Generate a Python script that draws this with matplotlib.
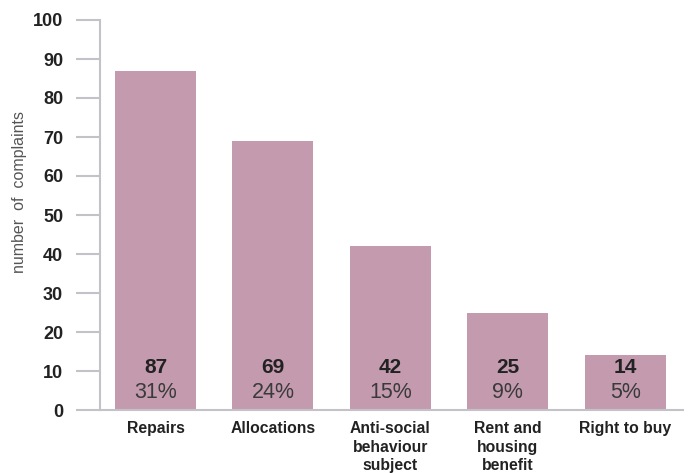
import matplotlib
matplotlib.use("Agg")
import matplotlib.pyplot as plt

categories = ["Repairs", "Allocations", "Anti-social\nbehaviour\nsubject",
              "Rent and\nhousing\nbenefit", "Right to buy"]
complaints = [87, 69, 42, 25, 14]
shares = ["31%", "24%", "15%", "9%", "5%"]
yticks = [0, 10, 20, 30, 40, 50, 60, 70, 80, 90, 100]

plt.rcParams["font.family"] = ["Liberation Sans", "DejaVu Sans"]

bar_color = "#C49BAE"
axis_color = "#C2C2C8"

fig = plt.figure(figsize=(6.9, 4.73), dpi=100)
ax = fig.add_axes([100 / 690, 1 - 410 / 473, 583 / 690, 390 / 473])

x = list(range(len(categories)))
ax.bar(x, complaints, width=0.69, color=bar_color, zorder=2)

for xi, n, s in zip(x, complaints, shares):
    ax.text(xi, 11.0, str(n), ha="center", va="center", fontsize=15,
            fontweight="bold", color="#222222", zorder=3)
    ax.text(xi, 4.4, s, ha="center", va="center", fontsize=15.5,
            color="#3a3a3a", zorder=3)

ax.set_xlim(-0.472, 4.49)
ax.set_ylim(0, 100)

ax.set_xticks(x)
ax.set_xticklabels(categories, fontsize=11.3, fontweight="bold", color="#222222",
                   linespacing=1.3)
ax.tick_params(axis="x", length=0, pad=8)

ax.set_yticks(yticks)
ax.set_yticklabels([str(v) for v in yticks], fontsize=13, fontweight="bold",
                   color="#222222")
ax.tick_params(axis="y", length=17.5, width=1.5, color=axis_color, pad=9)

for side in ("top", "right"):
    ax.spines[side].set_visible(False)
for side in ("left", "bottom"):
    ax.spines[side].set_color(axis_color)
    ax.spines[side].set_linewidth(1.5)

fig.text(20 / 690, 1 - 192 / 473, "number  of  complaints", rotation=90,
         ha="center", va="center", fontsize=11.5, color="#555555")

fig.savefig("out.png", dpi=100)
